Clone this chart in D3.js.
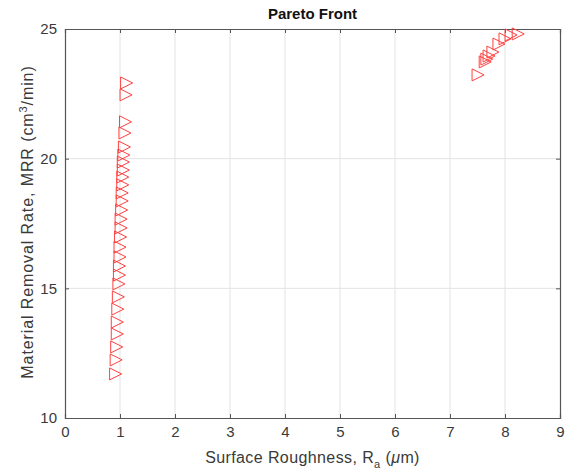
<!DOCTYPE html>
<html><head><meta charset="utf-8">
<script src="https://cdn.jsdelivr.net/npm/d3@7/dist/d3.min.js"></script>
<style>body{margin:0;background:#fff}text{font-family:"Liberation Sans",Arial,sans-serif}</style>
</head><body><svg id="c" width="572" height="472"></svg>
<script>
const roughness = [1.12,1.11,1.10,1.09,1.08,1.07,1.06,1.06,1.05,1.05,1.04,1.04,1.03,1.02,1.02,1.01,1.00,1.00,0.99,0.99,0.98,0.97,0.96,0.95,0.95,0.94,0.93,0.92,
  7.51,7.64,7.67,7.71,7.78,7.89,8.00,8.11,8.24];
const mrr = [22.92,22.46,21.42,20.99,20.45,20.14,19.87,19.56,19.29,18.99,18.68,18.37,18.02,17.67,17.33,16.98,16.59,16.21,15.86,15.51,15.17,14.67,14.20,13.70,13.24,12.74,12.24,11.70,
  23.23,23.73,23.84,23.96,24.11,24.42,24.62,24.77,24.81];
const xTicks = [0,1,2,3,4,5,6,7,8,9];
const yTicks = [10,15,20,25];

const svg = d3.select("#c");
const L=65, R=560, T=29, B=418;
const x = d3.scaleLinear().domain([0,9]).range([L,R]);
const y = d3.scaleLinear().domain([10,25]).range([B,T]);
const axisCol = "#555", txtCol = "#3a3a3a";

// grid
svg.append("g").selectAll("line").data(xTicks.slice(1,-1)).join("line")
  .attr("x1",d=>x(d)).attr("x2",d=>x(d)).attr("y1",T).attr("y2",B)
  .attr("stroke","#e3e3e3").attr("stroke-width",1);
svg.append("g").selectAll("line").data(yTicks.slice(1,-1)).join("line")
  .attr("y1",d=>y(d)).attr("y2",d=>y(d)).attr("x1",L).attr("x2",R)
  .attr("stroke","#e3e3e3").attr("stroke-width",1);

// axes
const gx = svg.append("g").attr("transform",`translate(0,${B})`)
  .call(d3.axisBottom(x).tickValues(xTicks).tickSize(-4).tickPadding(8).tickFormat(d3.format("d")));
const gxt = svg.append("g").attr("transform",`translate(0,${T})`)
  .call(d3.axisTop(x).tickValues(xTicks).tickSize(-4).tickFormat(""));
const gy = svg.append("g").attr("transform",`translate(${L},0)`)
  .call(d3.axisLeft(y).tickValues(yTicks).tickSize(-4).tickPadding(8).tickFormat(d3.format("d")));
const gyr = svg.append("g").attr("transform",`translate(${R},0)`)
  .call(d3.axisRight(y).tickValues(yTicks).tickSize(-4).tickFormat(""));
[gx,gxt,gy,gyr].forEach(g=>{
  g.select(".domain").attr("stroke",axisCol).attr("stroke-width",1.2);
  g.selectAll(".tick line").attr("stroke",axisCol);
  g.selectAll(".tick text").attr("fill",txtCol).style("font-size","15px");
});

// markers: right-pointing triangles
const s = 6;
svg.append("g").selectAll("path").data(roughness.map((r,i)=>[r,mrr[i]])).join("path")
  .attr("transform",d=>`translate(${x(d[0])},${y(d[1])})`)
  .attr("d",`M${s},0L${-s},${-s}L${-s},${s}Z`)
  .attr("fill","none").attr("stroke","#ff4040").attr("stroke-width",1);

// title
svg.append("text").attr("x",(L+R)/2).attr("y",19).attr("text-anchor","middle")
  .style("font-size","15px").style("font-weight","bold").attr("fill","#111").text("Pareto Front");

// x label
const xl = svg.append("text").attr("x",(L+R)/2).attr("y",463).attr("text-anchor","middle")
  .style("font-size","16px").style("letter-spacing","0.4px").attr("fill",txtCol);
xl.append("tspan").text("Surface Roughness, R");
xl.append("tspan").attr("dy",5).style("font-size","11px").text("a");
xl.append("tspan").attr("dy",-5).text(" (");
xl.append("tspan").style("font-style","italic").text("μ");
xl.append("tspan").text("m)");

// y label
const yl = svg.append("text").attr("transform",`translate(33,222) rotate(-90)`).attr("text-anchor","middle")
  .style("font-size","16px").style("letter-spacing","0.9px").attr("fill",txtCol);
yl.append("tspan").text("Material Removal Rate, MRR (cm");
yl.append("tspan").attr("dy",-6).style("font-size","11px").text("3");
yl.append("tspan").attr("dy",6).text("/min)");
</script></body></html>
